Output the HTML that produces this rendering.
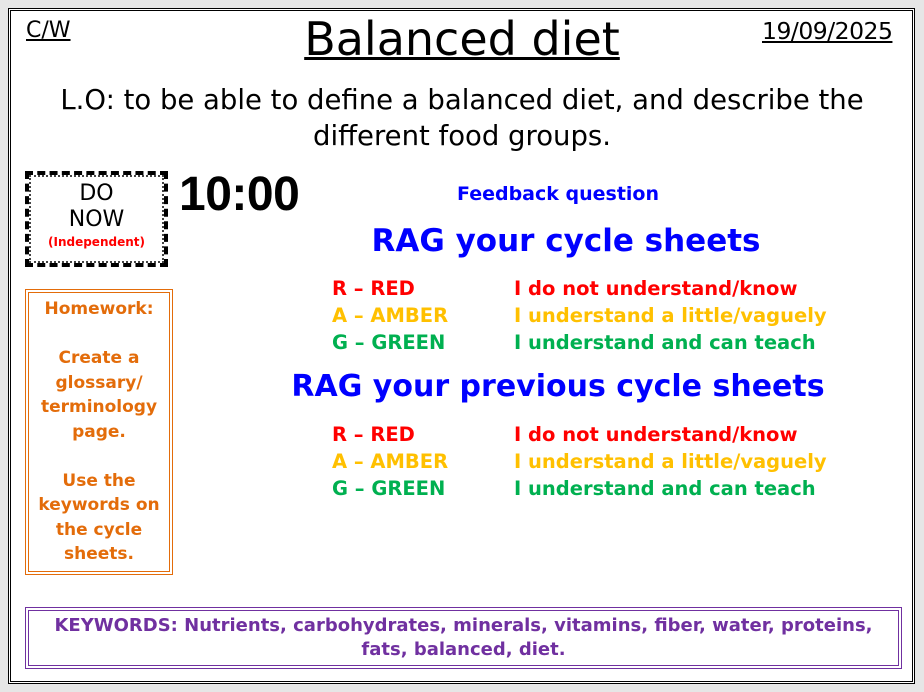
<!DOCTYPE html>
<html><head><style>
body{margin:0;width:924px;height:692px;background:#e6e6e6;position:relative;overflow:hidden;font-family:"DejaVu Sans","Liberation Sans",sans-serif;}
.frame{position:absolute;left:8px;top:8px;width:901px;height:670px;border:3px double #000;background:#fff;}
.t{position:absolute;white-space:nowrap;}
.c{text-align:center;}
.r{color:#ff0000}.a{color:#ffc000}.g{color:#00b050}.bl{color:#0000ff}
</style></head><body>
<div class="frame"></div>
<div class="t" style="left:26px;top:18px;font-size:22px;text-decoration:underline;">C/W</div>
<div class="t" style="left:762px;top:17px;font-size:23.5px;text-decoration:underline;letter-spacing:-0.5px">19/09/2025</div>
<div class="t c" style="left:262px;width:400px;top:12px;font-size:46px;text-decoration:underline;text-decoration-thickness:3px;">Balanced diet</div>
<div class="t c" style="left:0;width:924px;top:82px;font-size:27.5px;line-height:36px;">L.O: to be able to define a balanced diet, and describe the<br>different food groups.</div>

<div style="position:absolute;left:25px;top:171px;width:135px;height:88px;border:4px dashed #000;outline:2px dotted #444;outline-offset:-6px;"></div>
<div class="t c" style="left:26px;width:141px;top:181px;font-size:22px;line-height:26px;">DO<br>NOW</div>
<div class="t c" style="left:26px;width:141px;top:235px;font-size:12px;font-weight:bold;color:#ff0000;">(Independent)</div>
<div class="t" style="left:179px;top:167px;font-size:48px;font-weight:900;font-family:'Liberation Sans',sans-serif;letter-spacing:-0.5px;">10:00</div>

<div class="t c bl" style="left:408px;width:300px;top:183px;font-size:19px;font-weight:bold;">Feedback question</div>
<div class="t c bl" style="left:266px;width:600px;top:223px;font-size:31px;font-weight:bold;">RAG your cycle sheets</div>
<div class="t r" style="left:332px;top:277px;font-size:19.5px;font-weight:bold;">R – RED</div>
<div class="t a" style="left:332px;top:304px;font-size:19.5px;font-weight:bold;">A – AMBER</div>
<div class="t g" style="left:332px;top:331px;font-size:19.5px;font-weight:bold;">G – GREEN</div>
<div class="t r" style="left:514px;top:277px;font-size:19.5px;font-weight:bold;">I do not understand/know</div>
<div class="t a" style="left:514px;top:304px;font-size:19.5px;font-weight:bold;">I understand a little/vaguely</div>
<div class="t g" style="left:514px;top:331px;font-size:19.5px;font-weight:bold;">I understand and can teach</div>

<div class="t c bl" style="left:258px;width:600px;top:369px;font-size:30px;font-weight:bold;">RAG your previous cycle sheets</div>
<div class="t r" style="left:332px;top:423px;font-size:19.5px;font-weight:bold;">R – RED</div>
<div class="t a" style="left:332px;top:450px;font-size:19.5px;font-weight:bold;">A – AMBER</div>
<div class="t g" style="left:332px;top:477px;font-size:19.5px;font-weight:bold;">G – GREEN</div>
<div class="t r" style="left:514px;top:423px;font-size:19.5px;font-weight:bold;">I do not understand/know</div>
<div class="t a" style="left:514px;top:450px;font-size:19.5px;font-weight:bold;">I understand a little/vaguely</div>
<div class="t g" style="left:514px;top:477px;font-size:19.5px;font-weight:bold;">I understand and can teach</div>

<div style="position:absolute;left:25px;top:289px;width:140px;height:278px;border:4px double #e36c0a;"></div>
<div class="t c" style="left:25px;width:148px;top:297px;font-size:17px;line-height:24.5px;font-weight:bold;color:#e36c0a;">Homework:<br><br>Create a<br>glossary/<br>terminology<br>page.<br><br>Use the<br>keywords on<br>the cycle<br>sheets.</div>

<div style="position:absolute;left:25px;top:607px;width:869px;height:54px;border:4px double #7030a0;"></div>
<div class="t c" style="left:25px;width:877px;top:614px;font-size:18px;line-height:24px;font-weight:bold;color:#7030a0;">KEYWORDS: Nutrients, carbohydrates, minerals, vitamins, fiber, water, proteins,<br>fats, balanced, diet.</div>
</body></html>
